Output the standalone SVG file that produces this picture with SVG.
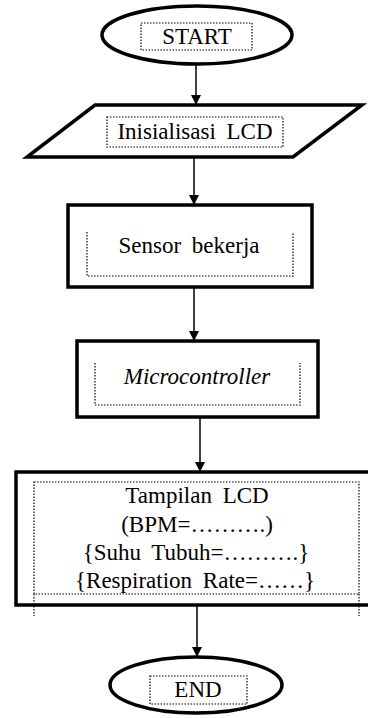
<svg xmlns="http://www.w3.org/2000/svg" width="368" height="718" viewBox="0 0 368 718">
<style>
.shape{fill:#fff;stroke:#000;stroke-width:3.5}
.dot{fill:none;stroke:#000;stroke-width:1.2;stroke-dasharray:1.5 1.5}
text{font-family:'Liberation Serif','DejaVu Serif',serif;font-size:23px;fill:#000;text-anchor:middle;word-spacing:5px}
.conn{stroke:#000;stroke-width:1.5;fill:none;marker-end:url(#ah)}
</style>
<defs>
<marker id="ah" markerWidth="10" markerHeight="10" refX="9" refY="5" orient="auto" markerUnits="userSpaceOnUse">
<path d="M0,0 L10,5 L0,10 Z" fill="#000"/>
</marker>
</defs>
<rect width="368" height="718" fill="#fff"/>
<g id="connectors">
<line class="conn" x1="196" y1="65" x2="196" y2="104"/>
<line class="conn" x1="194" y1="158" x2="194" y2="204"/>
<line class="conn" x1="194" y1="288" x2="194" y2="340"/>
<line class="conn" x1="200" y1="418" x2="200" y2="471"/>
<line class="conn" x1="197" y1="606" x2="197" y2="656"/>
</g>
<g id="start">
<ellipse class="shape" cx="197" cy="35" rx="95" ry="29"/>
<rect class="dot" x="141" y="23" width="111" height="27"/>
<text x="197" y="44">START</text>
</g>
<g id="init">
<polygon class="shape" points="95,105 362,105 293,157 27,157"/>
<rect class="dot" x="107" y="117" width="176" height="30"/>
<text x="195" y="139">Inisialisasi LCD</text>
</g>
<g id="sensor">
<rect class="shape" x="68" y="205" width="244" height="82" stroke-width="4"/>
<path class="dot" d="M87,232 V276 H293 V233"/>
<text x="189" y="253">Sensor bekerja</text>
</g>
<g id="micro">
<rect class="shape" x="77" y="341" width="241" height="76" stroke-width="4"/>
<path class="dot" d="M95,363 V405 H300 V363"/>
<text x="197" y="384" font-style="italic">Microcontroller</text>
</g>
<g id="tampilan">
<rect class="shape" x="16" y="472" width="370" height="133" stroke-width="4"/>
<rect class="dot" x="34" y="482" width="325" height="112"/>
<line class="dot" x1="34" y1="594" x2="34" y2="616"/>
<line class="dot" x1="359" y1="594" x2="359" y2="616"/>
<text x="197" y="503">Tampilan LCD</text>
<text x="197" y="532">(BPM=……….)</text>
<text x="196" y="560">{Suhu Tubuh=……….}</text>
<text x="195" y="588">{Respiration Rate=……}</text>
</g>
<g id="end">
<ellipse class="shape" cx="196" cy="685" rx="86" ry="28"/>
<rect class="dot" x="150" y="676" width="97" height="28"/>
<text x="198" y="697">END</text>
</g>
</svg>
